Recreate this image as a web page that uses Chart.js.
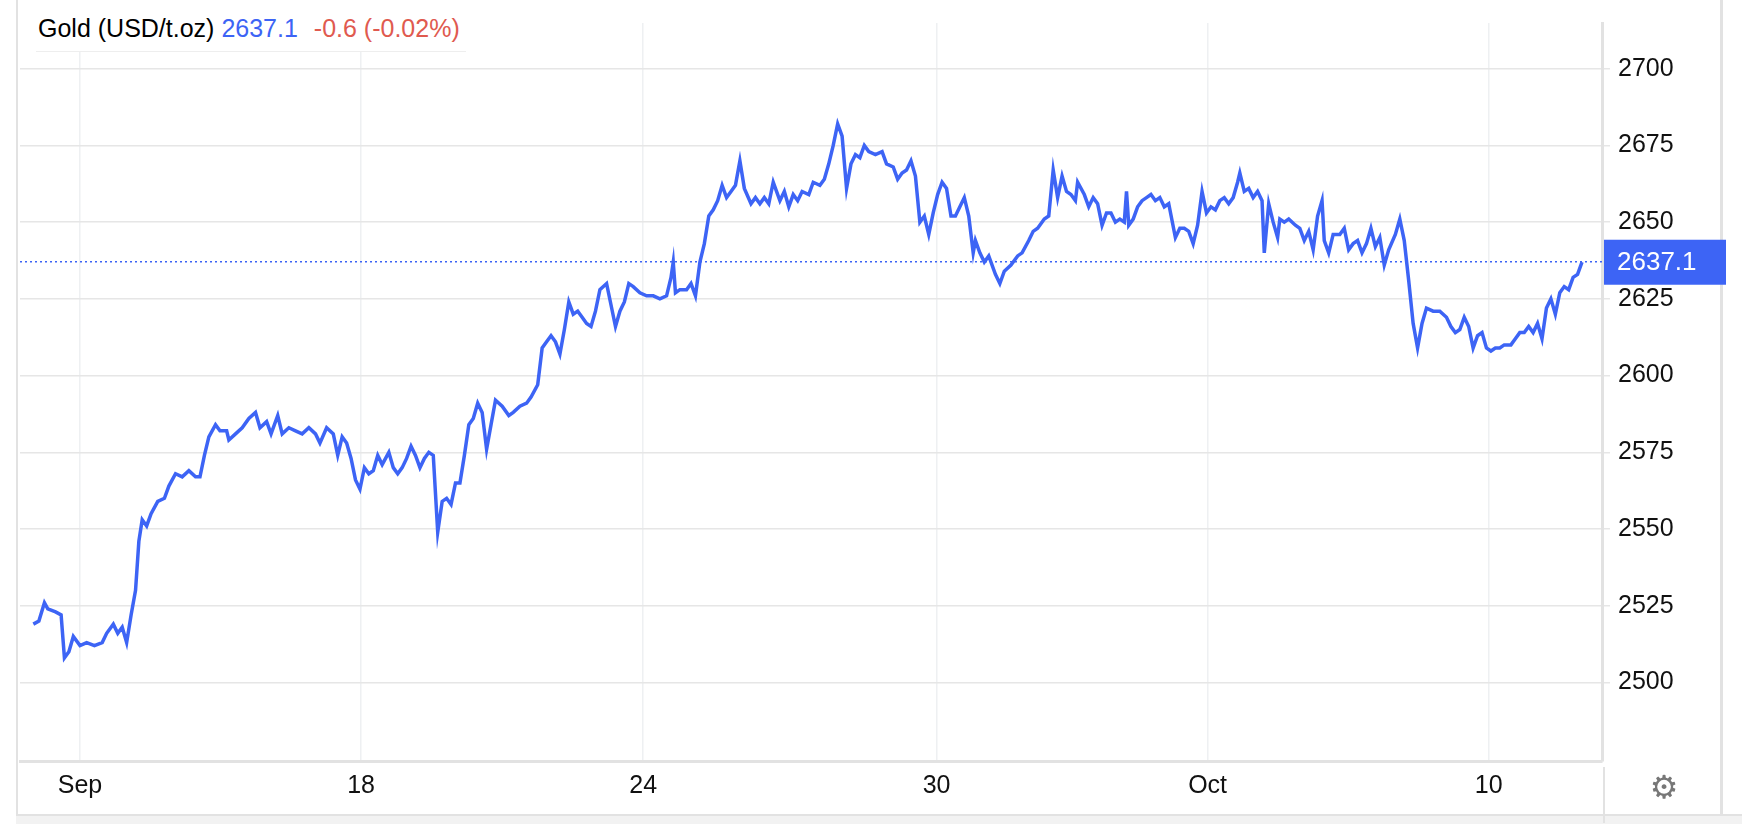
<!DOCTYPE html>
<html>
<head>
<meta charset="utf-8">
<script src="https://cdn.jsdelivr.net/npm/chart.js@4"></script>
<style>
  body { margin: 0; background: #fff; font-family: "Liberation Sans", Arial, sans-serif; }
  #wrap { position: relative; width: 1742px; height: 824px; }
  #title { position: absolute; left: 36px; top: 10px; font-size: 25px; background: #fff; padding: 4px 6px 8px 2px; border-bottom: 1px solid #eee; }
  #title .last { color: #3d64f5; }
  #title .chg { color: #e05a4f; margin-left: 16px; }
</style>
</head>
<body>
<div id="wrap">
  <canvas id="chart" width="1742" height="824"></canvas>
  <div id="title">Gold (USD/t.oz) <span class="last">2637.1</span><span class="chg">-0.6 (-0.02%)</span></div>
</div>
<script>
// time index of each sample (trading-time axis) and price
const times = [30,35,40,43,50,55,58,62,66,72,78,85,92,96,102,106,110,114,118,122,125,128,132,136,142,148,152,158,164,170,176,180,184,188,194,198,204,206,212,218,224,230,234,240,244,250,254,260,266,272,278,284,288,294,300,304,308,312,316,320,324,328,332,336,340,344,350,354,358,362,366,370,374,378,382,386,390,394,398,402,406,410,414,418,422,426,430,434,438,442,446,452,458,462,468,474,478,484,488,492,496,500,504,508,512,516,520,524,528,532,536,540,546,550,554,558,562,566,570,576,582,588,594,600,604,606,608,612,618,622,626,630,634,638,642,646,650,654,658,662,666,670,676,680,684,688,692,696,702,706,710,714,718,722,728,732,738,742,746,750,754,758,762,766,770,774,778,782,788,794,798,804,808,812,816,820,824,828,832,836,840,844,848,852,856,860,864,868,872,876,878,882,886,890,896,900,904,910,916,920,926,930,934,940,944,948,952,956,960,964,968,970,976,980,984,988,992,996,1000,1004,1008,1012,1014,1016,1020,1024,1028,1032,1036,1040,1044,1048,1052,1058,1062,1066,1070,1074,1078,1082,1086,1090,1094,1098,1102,1106,1110,1114,1116,1120,1124,1128,1132,1136,1138,1142,1146,1150,1152,1156,1160,1166,1170,1174,1178,1182,1186,1190,1192,1196,1200,1206,1210,1214,1218,1222,1226,1230,1234,1238,1242,1246,1250,1256,1260,1264,1268,1272,1276,1280,1284,1290,1296,1302,1306,1310,1314,1318,1322,1326,1330,1334,1338,1342,1346,1350,1354,1360,1364,1368,1372,1376,1380,1384,1388,1392,1396,1400,1404,1408,1412,1416,1420,1424];
const prices = [2519,2520,2526,2524,2523,2522,2508,2510,2515,2512,2513,2512,2513,2516,2519,2516,2518,2513,2522,2530,2546,2553,2551,2555,2559,2560,2564,2568,2567,2569,2567,2567,2574,2580,2584,2582,2582,2579,2581,2583,2586,2588,2583,2585,2581,2587,2581,2583,2582,2581,2583,2581,2578,2583,2581,2574,2580,2578,2573,2566,2563,2570,2568,2569,2574,2571,2575,2570,2568,2570,2573,2577,2574,2570,2573,2575,2574,2549,2559,2560,2558,2565,2565,2574,2584,2586,2591,2588,2576,2584,2592,2590,2587,2588,2590,2591,2593,2597,2609,2611,2613,2611,2607,2615,2624,2620,2621,2619,2617,2616,2621,2628,2630,2623,2616,2621,2624,2630,2629,2627,2626,2626,2625,2626,2632,2637,2627,2628,2628,2630,2626,2637,2643,2652,2654,2657,2662,2658,2660,2662,2670,2661,2656,2658,2656,2658,2656,2663,2657,2660,2655,2659,2657,2660,2659,2663,2662,2664,2669,2675,2682,2678,2661,2669,2672,2671,2675,2673,2672,2673,2669,2668,2664,2666,2667,2670,2665,2650,2652,2646,2653,2659,2663,2661,2652,2652,2655,2658,2652,2640,2644,2640,2637,2639,2633,2630,2634,2636,2639,2640,2644,2647,2648,2651,2652,2667,2658,2665,2660,2659,2657,2663,2659,2655,2658,2656,2649,2653,2653,2650,2651,2650,2660,2649,2651,2655,2657,2658,2659,2657,2658,2655,2656,2645,2648,2648,2647,2643,2649,2660,2653,2655,2654,2657,2658,2656,2658,2663,2666,2660,2661,2658,2660,2657,2640,2656,2650,2645,2651,2650,2651,2649,2648,2644,2647,2641,2652,2657,2644,2640,2646,2646,2648,2641,2643,2644,2640,2643,2648,2642,2645,2636,2641,2646,2651,2644,2631,2617,2609,2617,2622,2621,2621,2619,2616,2614,2615,2619,2616,2609,2613,2614,2609,2608,2609,2609,2610,2610,2612,2614,2614,2616,2614,2617,2612,2622,2625,2620,2627,2629,2628,2632,2633,2637];
const tickTimes = [72, 325, 579, 843, 1087, 1340];
const tickLabels = ['Sep', '18', '24', '30', 'Oct', '10'];
const yTicks = [2500, 2525, 2550, 2575, 2600, 2625, 2650, 2675, 2700];
const lastPrice = 2637.1;

const FONT = '"Liberation Sans", Arial, sans-serif';
const BLUE = '#3d64f5';

const overlay = {
    id: 'overlay',
    beforeDatasetsDraw(chart) {
        const { ctx, chartArea, scales } = chart;
        const y = scales.y.getPixelForValue(lastPrice);
        ctx.save();
        ctx.strokeStyle = BLUE;
        ctx.lineWidth = 1.5;
        ctx.setLineDash([2, 3]);
        ctx.beginPath();
        ctx.moveTo(chartArea.left, y);
        ctx.lineTo(chartArea.right, y);
        ctx.stroke();
        ctx.restore();
    },
    afterDraw(chart) {
        const { ctx, chartArea, scales } = chart;
        const y = scales.y.getPixelForValue(lastPrice);
        ctx.save();
        // frame
        ctx.fillStyle = '#e2e2e2';
        ctx.fillRect(16, 0, 2, 816);
        ctx.fillRect(1720, 0, 3, 816);
        ctx.fillStyle = '#f2f2f2';
        ctx.fillRect(16, 816, 1726, 8);
        ctx.fillStyle = '#e2e2e2';
        ctx.fillRect(16, 814, 1726, 2);
        ctx.fillRect(chartArea.right + 1, chartArea.bottom + 6, 2, 56);
        // price tag
        ctx.fillStyle = BLUE;
        ctx.fillRect(chartArea.right + 2, y - 22, 122, 45);
        ctx.fillStyle = '#fff';
        ctx.font = '26px ' + FONT;
        ctx.textBaseline = 'middle';
        ctx.fillText(lastPrice.toFixed(1), chartArea.right + 15, y + 1);
        // gear
        ctx.fillStyle = '#777';
        ctx.font = '32px "DejaVu Sans"';
        ctx.textAlign = 'center';
        ctx.fillText('\u2699', 1664, 790);
        ctx.restore();
    }
};

new Chart(document.getElementById('chart'), {
    type: 'line',
    data: {
        datasets: [{
            data: times.map((t, i) => ({ x: t, y: prices[i] })),
            borderColor: BLUE,
            borderWidth: 3.5,
            pointRadius: 0,
            tension: 0
        }]
    },
    options: {
        responsive: false,
        animation: false,
        plugins: { legend: { display: false }, tooltip: { enabled: false } },
        layout: { padding: { left: 20, top: -19, right: 0, bottom: 0 } },
        scales: {
            x: {
                type: 'linear',
                min: 18,
                max: 1442,
                afterBuildTicks: s => { s.ticks = tickTimes.map(v => ({ value: v })); },
                afterFit: s => { s.height = 63; },
                ticks: {
                    autoSkip: false,
                    maxRotation: 0,
                    padding: 10,
                    color: '#111',
                    font: { family: FONT, size: 25 },
                    callback: v => tickLabels[tickTimes.indexOf(v)]
                },
                grid: { color: '#eef0f2', lineWidth: 1.5, drawTicks: false },
                border: { color: '#e2e2e2', width: 3 }
            },
            y: {
                position: 'right',
                min: 2474.4,
                max: 2714.9,
                afterBuildTicks: s => { s.ticks = yTicks.map(v => ({ value: v })); },
                afterFit: s => { s.width = 140; },
                ticks: {
                    padding: 8,
                    color: '#111',
                    font: { family: FONT, size: 25 },
                    callback: v => String(v)
                },
                grid: { color: '#e6e6e6', lineWidth: 1.5, tickLength: 8 },
                border: { color: '#e2e2e2', width: 3 }
            }
        }
    },
    plugins: [overlay]
});
</script>
</body>
</html>
